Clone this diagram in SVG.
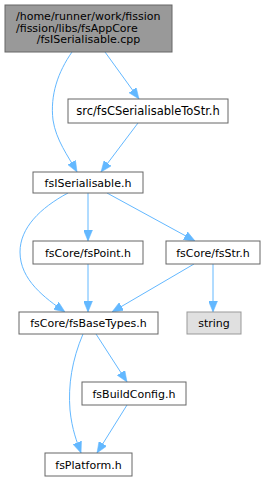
<svg xmlns="http://www.w3.org/2000/svg" width="267" height="481" viewBox="0 0 267 481">
<style>
.n rect{fill:#fff;stroke:#666;stroke-width:1}
.root rect{fill:#999;stroke:#666}
.ext rect{fill:#e0e0e0;stroke:#999}
text{font-family:"DejaVu Sans",sans-serif;font-size:11px;fill:#000}
.m{text-anchor:middle}
.e path{fill:none;stroke:#63b8ff;stroke-width:1;marker-end:url(#a)}
</style>
<defs>
<marker id="a" markerUnits="userSpaceOnUse" markerWidth="11" markerHeight="9" refX="11" refY="4.5" orient="auto">
<path d="M0,0 L11,4.5 L0,9 z" fill="#63b8ff" stroke="#63b8ff" stroke-width="0.5"/>
</marker>
</defs>
<g class="e" id="edges">
<path d="M72,52 C58,72 50,95 53,120 C56,140 68,156 77,172"/>
<path d="M105,52 L139,99"/>
<path d="M138,123 L101,172"/>
<path d="M68,193 C40,208 20,228 20,252 C20,280 45,298 65,312"/>
<path d="M88,193 L88,241"/>
<path d="M107,193 L195,241"/>
<path d="M88,264 L88,312"/>
<path d="M194,264 L112,312"/>
<path d="M213,264 L213,312"/>
<path d="M83,334 C72,360 68,385 70,410 C72,430 77,442 81,453"/>
<path d="M96,334 L127,382"/>
<path d="M127,405 L97,453"/>
</g>
<g class="n root" id="node1">
<rect x="5" y="5" width="167" height="47"/>
<text x="16" y="20">/home/runner/work/fission</text>
<text x="16" y="31.5">/fission/libs/fsAppCore</text>
<text class="m" x="88.5" y="43">/fsISerialisable.cpp</text>
</g>
<g class="n" id="node2">
<rect x="68" y="99" width="160" height="24"/>
<text class="m" x="148" y="115" style="font-size:11.5px">src/fsCSerialisableToStr.h</text>
</g>
<g class="n" id="node3">
<rect x="33" y="172" width="110" height="21"/>
<text class="m" x="88" y="186.5">fsISerialisable.h</text>
</g>
<g class="n" id="node4">
<rect x="33" y="241" width="110" height="23"/>
<text class="m" x="88" y="256.5">fsCore/fsPoint.h</text>
</g>
<g class="n" id="node5">
<rect x="166" y="241" width="94" height="23"/>
<text class="m" x="213" y="256.5">fsCore/fsStr.h</text>
</g>
<g class="n" id="node6">
<rect x="19" y="312" width="139" height="22"/>
<text class="m" x="88.5" y="327">fsCore/fsBaseTypes.h</text>
</g>
<g class="n ext" id="node7">
<rect x="187" y="312" width="54" height="22"/>
<text class="m" x="214" y="327">string</text>
</g>
<g class="n" id="node8">
<rect x="82" y="382" width="104" height="23"/>
<text class="m" x="134" y="397.5">fsBuildConfig.h</text>
</g>
<g class="n" id="node9">
<rect x="45" y="453" width="87" height="23"/>
<text class="m" x="88.5" y="468.5">fsPlatform.h</text>
</g>
</svg>
